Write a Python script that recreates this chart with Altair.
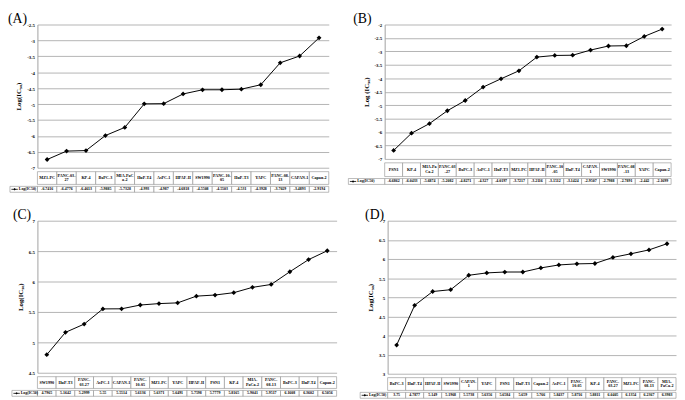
import altair as alt
import pandas as pd

# ---------------- data ----------------
A_cats = ["MZ1-PC", "PANC-03-27", "KP-4", "BxPC-3", "MIA-PaCa-2", "HuP-T4", "AsPC-1", "HPAF-II",
          "SW1990", "PANC-10-05", "HuP-T3", "YAPC", "PANC-08-13", "CAPAN-1", "Capan-2"]
A_labels = ["MZ1-PC", "PANC-03-\n27", "KP-4", "BxPC-3", "MIA-PaC\na-2", "HuP-T4", "AsPC-1", "HPAF-II",
            "SW1990", "PANC-10-\n05", "HuP-T3", "YAPC", "PANC-08-\n13", "CAPAN-1", "Capan-2"]
A_vals = [-6.7416, -6.4776, -6.4613, -5.9885, -5.7328, -4.993, -4.987, -4.6818,
          -4.5508, -4.5503, -4.531, -4.3928, -3.7029, -3.4893, -2.9194]
A_ticks = [-7, -6.5, -6, -5.5, -5, -4.5, -4, -3.5, -3, -2.5]

B_cats = ["PSN1", "KP-4", "MIA-PaCa-2", "PANC-03-27", "BxPC-3", "AsPC-1", "HuP-T3", "MZ1-PC",
          "HPAF-II", "PANC-10-05", "HuP-T4", "CAPAN-1", "SW1990", "PANC-08-13", "YAPC", "Capan-2"]
B_labels = ["PSN1", "KP-4", "MIA-Pa\nCa-2", "PANC-03\n-27", "BxPC-3", "AsPC-1", "HuP-T3", "MZ1-PC",
            "HPAF-II", "PANC-10\n-05", "HuP-T4", "CAPAN-\n1", "SW1990", "PANC-08\n-13", "YAPC", "Capan-2"]
B_vals = [-6.6862, -6.0433, -5.6874, -5.2082, -4.8271, -4.327, -4.0197, -3.7217,
          -3.2116, -3.1512, -3.1424, -2.9507, -2.7988, -2.7891, -2.442, -2.1699]
B_ticks = [-7, -6.5, -6, -5.5, -5, -4.5, -4, -3.5, -3, -2.5, -2]

C_cats = ["SW1990", "HuP-T3", "PANC-03-27", "AsPC-1", "CAPAN-1", "PANC-10-05", "MZ1-PC", "YAPC",
          "HPAF-II", "PSN1", "KP-4", "MIA-PaCa-2", "PANC-08-13", "BxPC-3", "HuP-T4", "Capan-2"]
C_labels = ["SW1990", "HuP-T3", "PANC-\n03-27", "AsPC-1", "CAPAN-1", "PANC-\n10-05", "MZ1-PC", "YAPC",
            "HPAF-II", "PSN1", "KP-4", "MIA-\nPaCa-2", "PANC-\n08-13", "BxPC-3", "HuP-T4", "Capan-2"]
C_vals = [4.7965, 5.1642, 5.2999, 5.55, 5.5514, 5.6136, 5.6371, 5.6491,
          5.7598, 5.7779, 5.8165, 5.9041, 5.9517, 6.1608, 6.3602, 6.5056]
C_ticks = [4.5, 5, 5.5, 6, 6.5, 7]

D_cats = ["BxPC-3", "HuP-T4", "HPAF-II", "SW1990", "CAPAN-1", "YAPC", "PSN1", "HuP-T3",
          "Capan-2", "AsPC-1", "PANC-10-05", "KP-4", "PANC-03-27", "MZ1-PC", "PANC-08-13", "MIA-PaCa-2"]
D_labels = ["BxPC-3", "HuP-T4", "HPAF-II", "SW1990", "CAPAN-\n1", "YAPC", "PSN1", "HuP-T3",
            "Capan-2", "AsPC-1", "PANC-\n10-05", "KP-4", "PANC-\n03-27", "MZ1-PC", "PANC-\n08-13", "MIA-\nPaCa-2"]
D_vals = [3.75, 4.7877, 5.149, 5.1968, 5.5738, 5.6356, 5.6584, 5.659,
          5.766, 5.8437, 5.8716, 5.8811, 6.0405, 6.1354, 6.2367, 6.3983]
D_ticks = [3, 3.5, 4, 4.5, 5, 5.5, 6, 6.5, 7]

SERIF = "Liberation Serif"
CELL_STROKE = "#8c8c8c"
LH = 4.6


def panel(letter, cats, labels, vals, ticks, ytitle, w, h, h_names, h_vals, leg_w, letter_x):
    df = pd.DataFrame({"cat": cats, "label": labels, "val": vals,
                       "txt": [str(v) for v in vals],
                       "nl": [lab.count("\n") + 1 for lab in labels]})
    base = alt.Chart(df)
    x_pt = alt.X("cat:N", sort=cats, scale=alt.Scale(type="point", padding=0.5), axis=None)
    y = alt.Y("val:Q",
              scale=alt.Scale(domain=[ticks[0], ticks[-1]], nice=False, zero=False),
              axis=alt.Axis(values=ticks, tickCount=len(ticks) + 5, title=ytitle,
                            labelExpr="'' + datum.value",
                            labelOverlap=False, labelFlush=False, labelBound=False,
                            titlePadding=5, labelPadding=3))
    line = base.mark_line(color="black", strokeWidth=1).encode(x=x_pt, y=y)
    pts = base.mark_point(shape="diamond", filled=True, color="black", size=24,
                          opacity=1).encode(x=x_pt, y="val:Q")
    one = pd.DataFrame({"t": [letter]})
    let = alt.Chart(one).mark_text(font=SERIF, fontSize=14, align="left", baseline="middle",
                                   color="black").encode(
        x=alt.value(letter_x), y=alt.value(-6), text="t:N")
    plot = alt.layer(line, pts, let).properties(width=w, height=h)

    x_band = alt.X("cat:N", sort=cats,
                   scale=alt.Scale(type="band", paddingInner=0, paddingOuter=0), axis=None)
    n_cells = base.mark_rect(fill="white", stroke=CELL_STROKE, strokeWidth=0.6).encode(
        x=x_band, y=alt.value(0), y2=alt.value(h_names))
    n_text1 = base.mark_text(font=SERIF, fontSize=4.2, fontWeight="bold",
                             baseline="middle", color="black").transform_filter(
        "datum.nl == 1").encode(x=x_band, y=alt.value(h_names / 2), text="label:N")
    n_text2 = base.mark_text(font=SERIF, fontSize=4.2, fontWeight="bold", lineBreak="\n",
                             lineHeight=LH, baseline="middle", color="black").transform_filter(
        "datum.nl == 2").encode(x=x_band, y=alt.value(h_names / 2 - LH / 2), text="label:N")
    names = alt.layer(n_cells, n_text1, n_text2).properties(width=w, height=h_names)

    v_cells = base.mark_rect(fill="white", stroke=CELL_STROKE, strokeWidth=0.6).encode(
        x=x_band, y=alt.value(0), y2=alt.value(h_vals))
    v_text = base.mark_text(font=SERIF, fontSize=4, fontWeight="bold",
                            baseline="middle", color="black").encode(
        x=x_band, y=alt.value(h_vals / 2), text="txt:N")
    lg = pd.DataFrame({"t": ["Log(IC50)"]})
    lg_cell = alt.Chart(lg).mark_rect(fill="white", stroke=CELL_STROKE, strokeWidth=0.6).encode(
        x=alt.value(-leg_w), x2=alt.value(0), y=alt.value(0), y2=alt.value(h_vals))
    lg_line = alt.Chart(lg).mark_rule(color="black", strokeWidth=0.8).encode(
        x=alt.value(-leg_w + 1.5), x2=alt.value(-leg_w + 8), y=alt.value(h_vals / 2))
    lg_pt = alt.Chart(lg).mark_point(shape="diamond", filled=True, color="black", size=6,
                                     opacity=1).encode(
        x=alt.value(-leg_w + 4.75), y=alt.value(h_vals / 2))
    lg_text = alt.Chart(lg).mark_text(font=SERIF, fontSize=4, fontWeight="bold", align="left",
                                      baseline="middle", color="black").encode(
        x=alt.value(-leg_w + 9), y=alt.value(h_vals / 2), text="t:N")
    values = alt.layer(v_cells, v_text, lg_cell, lg_line, lg_pt, lg_text).properties(
        width=w, height=h_vals)

    return alt.vconcat(plot, names, values, spacing=0)


pA = panel("(A)", A_cats, A_labels, A_vals, A_ticks, "Log(IC₅₀)", 297, 146, 13, 6, 28, -30)
pB = panel("(B)", B_cats, B_labels, B_vals, B_ticks, "Log (IC₅₀)", 292, 137, 14, 6, 37, -32)
pC = panel("(C)", C_cats, C_labels, C_vals, C_ticks, "Log(IC₅₀)", 305, 155, 12, 6, 26, -25)
pD = panel("(D)", D_cats, D_labels, D_vals, D_ticks, "Log(IC₅₀)", 294, 156, 13, 6, 28, -23)

row1 = alt.hconcat(pA, pB, spacing=18)
row2 = alt.hconcat(pC, pD, spacing=22)

chart = alt.vconcat(row1, row2, spacing=15).configure(
    padding={"left": 0, "top": 0, "right": 0, "bottom": 0}
).configure_view(stroke=None).configure_axis(
    grid=True, gridColor="#b4b4b4", gridWidth=1,
    domainColor="#a0a0a0", domainWidth=1, ticks=False,
    labelFont=SERIF, labelFontSize=5, labelFontWeight="bold", labelColor="black",
    titleFont=SERIF, titleFontSize=7, titleFontWeight="bold", titleColor="black",
)

chart.save("out.html", embed_options={"renderer": "svg", "actions": False})
